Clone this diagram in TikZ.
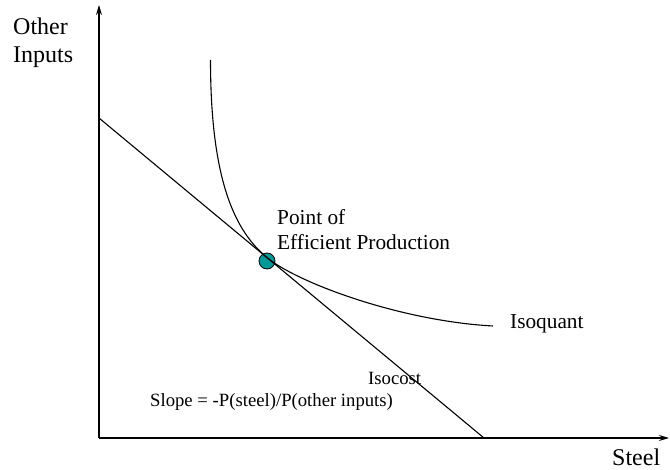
\documentclass[tikz,border=0pt]{standalone}
\usepackage{fontspec}
\setmainfont{Liberation Serif}
\usetikzlibrary{arrows.meta}
\definecolor{effteal}{RGB}{0,153,153}
\tikzset{
  axis/.style={line width=1.4pt,-{Stealth[length=10pt,width=6pt]}},
  curveline/.style={line width=1.1pt},
  axislabel/.style={anchor=base west,inner sep=0pt,font=\fontsize{24}{28}\selectfont},
  label/.style={anchor=base west,inner sep=0pt,font=\fontsize{21.3}{25}\selectfont},
  smalllabel/.style={anchor=base west,inner sep=0pt,font=\fontsize{18.7}{22}\selectfont},
  dot/.style={circle,draw=black,line width=0.8pt,fill=effteal,minimum size=16pt,inner sep=0pt}
}
\begin{document}
\begin{tikzpicture}[x=1pt,y=-1pt]
\useasboundingbox (0,0) rectangle (670,470);
% axes
\coordinate (O) at (99,438);
\coordinate (ytop) at (99,5);
\coordinate (xend) at (669,438);
\draw[axis] (O) -- (ytop);
\draw[axis] (O) -- (xend);
% point of efficient production (drawn first, lines cross over it)
\node[dot] (eff) at (267,261) {};
% isocost line
\coordinate (icA) at (99,118);
\coordinate (icB) at (484,438);
\draw[curveline] (icA) -- (icB);
% isoquant, tangent to the isocost at (tp)
\coordinate (iqA) at (210.5,60);
\coordinate (tp) at (267,257.6);
\coordinate (iqB) at (493,326);
\draw[curveline] (iqA) .. controls (210.5,185) and (237,232.7) .. (tp)
  .. controls (297,282.5) and (400,321) .. (iqB);
% labels
\node[axislabel] (other) at (13,35) {Other};
\node[axislabel] (inputs) at (13,63) {Inputs};
\node[axislabel] (steel) at (612,465) {Steel};
\node[label] (point) at (277,225) {Point of};
\node[label] (effprod) at (277,250) {Efficient Production};
\node[label] (isoquant) at (510,329) {Isoquant};
\node[smalllabel] (isocost) at (368,385) {Isocost};
\node[smalllabel] (slope) at (150,407) {Slope = -P(steel)/P(other inputs)};
\end{tikzpicture}
\end{document}
